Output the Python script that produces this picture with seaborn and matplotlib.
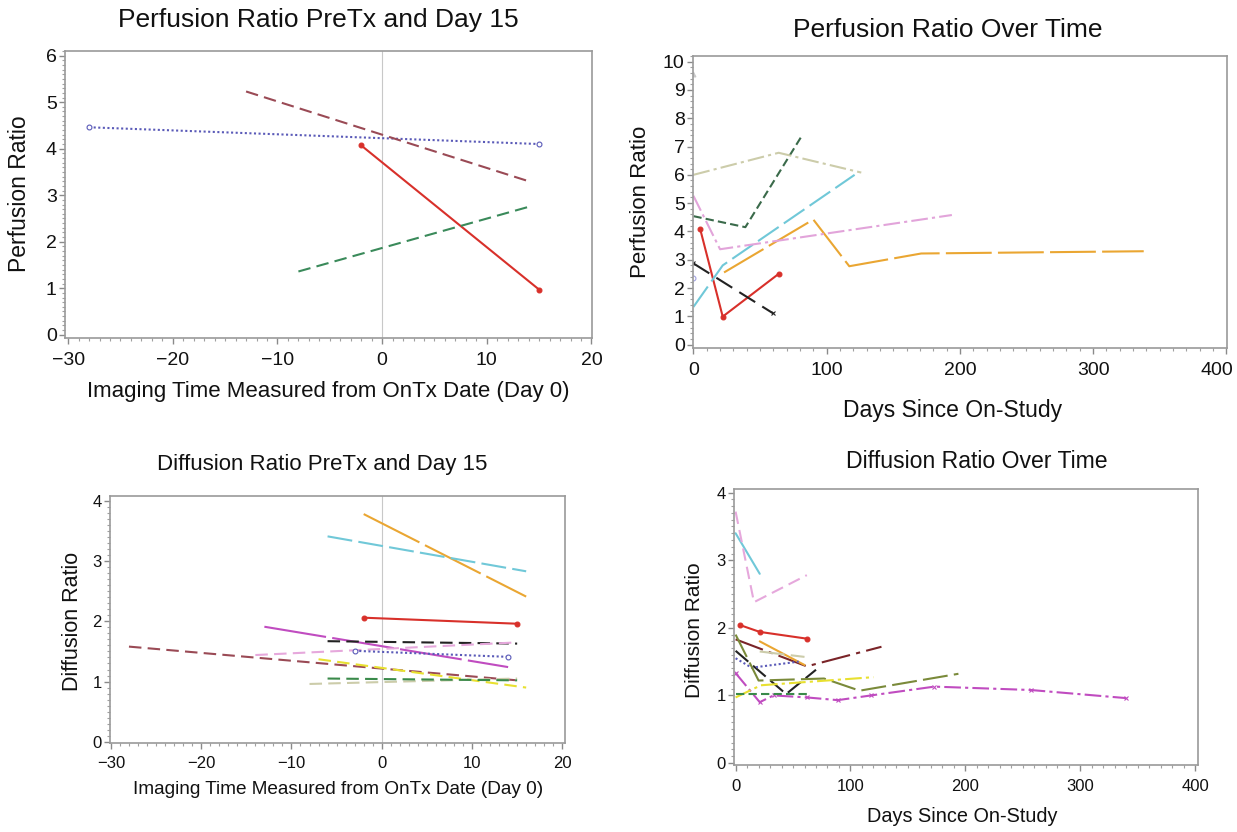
import matplotlib
matplotlib.use("Agg")
import matplotlib.pyplot as plt
from matplotlib.ticker import MultipleLocator, FuncFormatter
from matplotlib.transforms import ScaledTranslation
import pandas as pd
import seaborn as sns

sns.set_theme(style="ticks")
plt.rcParams["font.family"] = ["Liberation Sans", "DejaVu Sans"]

W, H = 1237, 832

# ─── data ────────────────────────────────────────────────────────────────────
# Perfusion ratio, PreTx and Day 15
PERF_PRE_DAYS = [[-28, 15], [-13, 14], [-2, 15], [-8, 14]]
PERF_PRE_RATIO = [[4.46, 4.10], [5.23, 3.30], [4.07, 0.97], [1.36, 2.75]]

# Perfusion ratio over time
PERF_DAYS = [[5, 22, 64], [0, 60], [0, 22, 121], [23, 90, 117, 171, 338],
             [0, 20, 194], [0, 39, 81], [0, 64, 126], [0], [0]]
PERF_RATIO = [[4.10, 0.99, 2.50], [2.87, 1.10], [1.33, 2.80, 6.00],
              [2.55, 4.42, 2.77, 3.22, 3.30], [5.26, 3.37, 4.58],
              [4.54, 4.15, 7.35], [6.00, 6.78, 6.08], [2.34], [9.57]]

# Diffusion ratio, PreTx and Day 15
DIFF_PRE_DAYS = [[-2, 16], [-6, 16], [-2, 15], [-13, 14], [-6, 15], [-14, 15],
                 [-3, 14], [-28, 15], [-7, 16], [-8, 15], [-6, 15]]
DIFF_PRE_RATIO = [[3.78, 2.41], [3.41, 2.83], [2.06, 1.96], [1.91, 1.24],
                  [1.67, 1.63], [1.44, 1.65], [1.51, 1.41], [1.58, 1.02],
                  [1.37, 0.90], [0.96, 1.05], [1.05, 1.02]]

# Diffusion ratio over time
DIFF_DAYS = [[0, 21], [0, 16, 62], [4, 21, 62], [0, 62, 127], [21, 60], [21, 60],
             [0, 44, 70], [0, 14, 55], [0, 20, 77, 108, 194],
             [0, 21, 33, 62, 89, 118, 173, 257, 340], [0, 22, 120], [0, 62]]
DIFF_RATIO = [[3.40, 2.80], [3.72, 2.38, 2.78], [2.04, 1.94, 1.84],
              [1.83, 1.43, 1.72], [1.80, 1.45], [1.65, 1.57],
              [1.66, 1.02, 1.38], [1.55, 1.41, 1.50],
              [1.90, 1.22, 1.25, 1.07, 1.32],
              [1.33, 0.90, 1.00, 0.97, 0.93, 1.00, 1.13, 1.08, 0.96],
              [0.97, 1.15, 1.27], [1.02, 1.02]]

# ─── styles ──────────────────────────────────────────────────────────────────
SOLID, DASH, LONG, SHORT, DOT, DASHDOT = "-", (0, (6, 3)), (0, (12, 3)), (0, (4, 2)), (0, (1, 1.2)), (0, (8, 2, 1.5, 2))

PERF_PRE_STYLE = [("#5A5AB8", DOT, "o", False), ("#9A4A55", DASH, None, True),
                  ("#D8302A", SOLID, "o", True), ("#3A8A5A", DASH, None, True)]
PERF_STYLE = [("#D8302A", SOLID, "o", True), ("#222222", (0, (9, 4)), "x", True),
              ("#70C8D8", LONG, None, True), ("#EAA632", (0, (22, 3)), None, True),
              ("#E2A4DA", DASHDOT, None, True), ("#3A6A4A", SHORT, None, True),
              ("#CCCCAA", DASHDOT, None, True), ("#A0A0E0", SOLID, "o", False),
              ("#C8C8C8", SOLID, "^", True)]
DIFF_PRE_STYLE = [("#EAA632", (0, (30, 3)), None, True), ("#70C8D8", LONG, None, True),
                  ("#D8302A", SOLID, "o", True), ("#C04CC0", (0, (30, 3)), None, True),
                  ("#222222", DASH, None, True), ("#E6A8DC", DASH, None, True),
                  ("#5A5AB8", DOT, "o", False), ("#9A4A55", DASH, None, True),
                  ("#E8E030", DASH, None, True), ("#CCCCAA", DASH, None, True),
                  ("#3A8A4A", DASH, None, True)]
DIFF_STYLE = [("#70C8D8", SOLID, None, True), ("#E6A8DC", DASH, None, True),
              ("#D8302A", SOLID, "o", True), ("#7A2428", (0, (14, 3, 2, 3)), None, True),
              ("#EAA632", SOLID, None, True), ("#CCCCAA", LONG, None, True),
              ("#222222", (0, (8, 3)), None, True), ("#5A5AB8", DOT, None, True),
              ("#7A8A3A", LONG, None, True), ("#C04CC0", DASHDOT, "x", True),
              ("#E8E030", DASHDOT, None, True), ("#3A8A4A", SHORT, None, True)]

TICK_LEN, TICK_PAD = 4, 6


def px_ax(fig, left, top, right, bottom):
    return fig.add_axes([left / W, 1 - bottom / H, (right - left) / W, (bottom - top) / H])


def draw_series(ax, days, ratios, styles):
    for xs, ys, (col, ls, mk, filled) in zip(days, ratios, styles):
        df = pd.DataFrame({"day": xs, "ratio": ys})
        sns.lineplot(data=df, x="day", y="ratio", ax=ax, color=col, linestyle=ls,
                     linewidth=1.5, marker=mk, markersize=3.5,
                     markerfacecolor=col if filled else "white",
                     markeredgecolor=col, markeredgewidth=0.8,
                     estimator=None, legend=False)


def style_axes(ax, xlim, xstep, xminor, ylim, ystep, yminor, fs, xpad):
    ax.set_xlim(*xlim)
    ax.set_ylim(*ylim)
    ax.xaxis.set_major_locator(MultipleLocator(xstep))
    ax.xaxis.set_minor_locator(MultipleLocator(xminor))
    ax.yaxis.set_major_locator(MultipleLocator(ystep))
    ax.yaxis.set_minor_locator(MultipleLocator(yminor))
    for sp in ax.spines.values():
        sp.set_color("#9A9A9A")
        sp.set_linewidth(1.2)
    ax.tick_params(which="major", direction="out", length=TICK_LEN, width=1,
                   color="#8A8A8A", labelsize=fs, labelcolor="#111111")
    ax.tick_params(axis="x", which="major", pad=xpad)
    ax.tick_params(axis="y", which="major", pad=2)
    ax.tick_params(which="minor", direction="out", length=2.5, width=0.8, color="#A0A0A0")


def labels(fig, ax, title, tpos, tfs, xlabel, xpos, xfs, ylabel, ypos, yfs):
    fig.text(tpos[0] / W, 1 - tpos[1] / H, title, ha="center", va="center",
             fontsize=tfs, color="#111111")
    ax.set_xlabel(xlabel, fontsize=xfs, va="center", color="#111111")
    ax.xaxis.set_label_coords(xpos[0] / W, 1 - xpos[1] / H, transform=fig.transFigure)
    ax.set_ylabel(ylabel, fontsize=yfs, va="center", color="#111111")
    ax.yaxis.set_label_coords(ypos[0] / W, 1 - ypos[1] / H, transform=fig.transFigure)


fig = plt.figure(figsize=(W / 100, H / 100), dpi=100)

# ─── Perfusion PreTx / Day 15 ────────────────────────────────────────────────
ax1 = px_ax(fig, 65, 51, 592, 338)
ax1.axvline(0, color="#C8C8C8", linewidth=0.8)
draw_series(ax1, PERF_PRE_DAYS, PERF_PRE_RATIO, PERF_PRE_STYLE)
style_axes(ax1, (-30.3, 20.05), 10, 1, (-0.07, 6.1), 1, 0.1, 14, TICK_PAD)
labels(fig, ax1, "Perfusion Ratio PreTx and Day 15", (318, 20), 19,
       "Imaging Time Measured from OnTx Date (Day 0)", (328, 391), 16,
       "Perfusion Ratio", (20, 194), 16.5)

# ─── Perfusion over time ─────────────────────────────────────────────────────
ax2 = px_ax(fig, 693, 56, 1227, 348)
draw_series(ax2, PERF_DAYS, PERF_RATIO, PERF_STYLE)
style_axes(ax2, (-0.3, 400.5), 100, 10, (-0.12, 10.2), 1, 0.2, 14, TICK_PAD)
# the last tick label sits on the right edge: draw it nudged inwards
ax2.xaxis.set_major_formatter(FuncFormatter(lambda v, _: "" if v >= 400 else f"{v:.0f}"))
edge_tr = ax2.get_xaxis_text1_transform(TICK_LEN + TICK_PAD)[0]
ax2.text(400, 0, "400", transform=edge_tr + ScaledTranslation(-9 / 100, 0, fig.dpi_scale_trans),
         ha="center", va="top", fontsize=14, color="#111111")
labels(fig, ax2, "Perfusion Ratio Over Time", (948, 30), 19,
       "Days Since On-Study", (953, 410), 16.5,
       "Perfusion Ratio", (640, 202), 16)

# ─── Diffusion PreTx / Day 15 ────────────────────────────────────────────────
ax3 = px_ax(fig, 110, 496, 565, 743)
ax3.axvline(0, color="#C8C8C8", linewidth=0.8)
draw_series(ax3, DIFF_PRE_DAYS, DIFF_PRE_RATIO, DIFF_PRE_STYLE)
style_axes(ax3, (-30.1, 20.3), 10, 1, (-0.02, 4.08), 1, 0.1, 12, 5)
labels(fig, ax3, "Diffusion Ratio PreTx and Day 15", (322, 465), 16,
       "Imaging Time Measured from OnTx Date (Day 0)", (338, 790), 13.7,
       "Diffusion Ratio", (73, 621), 15.5)

# ─── Diffusion over time ─────────────────────────────────────────────────────
ax4 = px_ax(fig, 734, 489, 1198, 765)
draw_series(ax4, DIFF_DAYS, DIFF_RATIO, DIFF_STYLE)
style_axes(ax4, (-1.4, 402.6), 100, 10, (-0.03, 4.055), 1, 0.1, 12, 6)
labels(fig, ax4, "Diffusion Ratio Over Time", (977, 462), 16.6,
       "Days Since On-Study", (962, 817), 14.3,
       "Diffusion Ratio", (695, 630), 15)

fig.savefig("out.png", dpi=100)
plt.close(fig)
